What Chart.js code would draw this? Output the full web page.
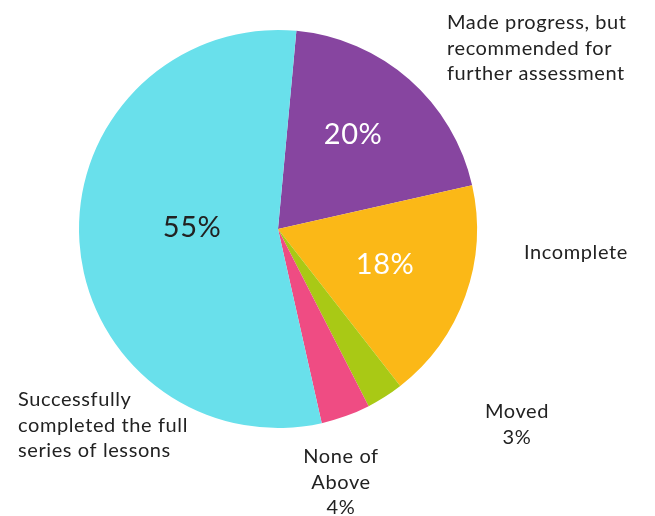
<!DOCTYPE html>
<html>
<head>
<meta charset="utf-8">
<script src="https://cdn.jsdelivr.net/npm/chart.js@4"></script>
<style>
  html, body { margin: 0; padding: 0; background: #fff; }
  #wrap { width: 655px; height: 516px; position: relative; }
</style>
</head>
<body>
<div id="wrap"><canvas id="pieChart" width="655" height="516"></canvas></div>
<script>
// datos del gráfico
const categories = [
  'Made progress, but recommended for further assessment',
  'Incomplete',
  'Moved',
  'None of Above',
  'Successfully completed the full series of lessons'
];
const percents = [20, 18, 3, 4, 55];
const sliceColors = ['#8745A0', '#FBB817', '#A9C915', '#EF4C83', '#69E0EB'];

// etiquetas de texto (líneas)
const outsideLines = [
  ['Made progress, but', 'recommended for', 'further assessment'],
  ['Incomplete'],
  ['Moved', '3%'],
  ['None of', 'Above', '4%'],
  ['Successfully', 'completed the full', 'series of lessons']
];
const insideLabels = ['20%', '18%', '', '', '55%'];

// estilo de las etiquetas (offset desde el centro del pastel)
const outsideStyle = [
  { dx: 169, dy: -206, align: 'left' },
  { dx: 246, dy: 24, align: 'left' },
  { dx: 239, dy: 183, align: 'center' },
  { dx: 63, dy: 228, align: 'center' },
  { dx: -260, dy: 171, align: 'left' }
];
const insideStyle = [
  { dx: 75, dy: -94, color: '#ffffff' },
  { dx: 107, dy: 36, color: '#ffffff' },
  null,
  null,
  { dx: -86, dy: -1, color: '#222222' }
];

const labelPlugin = {
  id: 'labelPlugin',
  afterDraw(chart) {
    const ctx = chart.ctx;
    const meta = chart.getDatasetMeta(0);
    ctx.save();
    ctx.textBaseline = 'middle';
    meta.data.forEach(function(arc, i) {
      const cx = arc.x, cy = arc.y;
      // porcentaje dentro
      const ins = insideStyle[i];
      if (ins) {
        ctx.font = '29px Lato';
        ctx.letterSpacing = '0.5px';
        ctx.fillStyle = ins.color;
        ctx.textAlign = 'center';
        ctx.fillText(insideLabels[i], cx + ins.dx, cy + ins.dy);
      }
      // texto fuera
      const st = outsideStyle[i];
      ctx.font = '20px Lato';
      ctx.letterSpacing = '0.6px';
      ctx.fillStyle = '#222222';
      ctx.textAlign = st.align;
      outsideLines[i].forEach(function(line, k) {
        ctx.fillText(line, cx + st.dx, cy + st.dy + k * 25.5);
      });
    });
    ctx.restore();
  }
};

document.addEventListener('DOMContentLoaded', function() {
  const canvas = document.getElementById('pieChart');
  const chart = new Chart(canvas.getContext('2d'), {
    type: 'pie',
    data: {
      labels: categories,
      datasets: [{
        data: percents,
        backgroundColor: sliceColors,
        borderWidth: 0
      }]
    },
    options: {
      responsive: false,
      animation: false,
      rotation: 5.3,
      layout: { padding: { left: 79, right: 178, top: 30, bottom: 88 } },
      plugins: {
        legend: { display: false },
        tooltip: { enabled: false }
      }
    },
    plugins: [labelPlugin]
  });
});
</script>
</body>
</html>
